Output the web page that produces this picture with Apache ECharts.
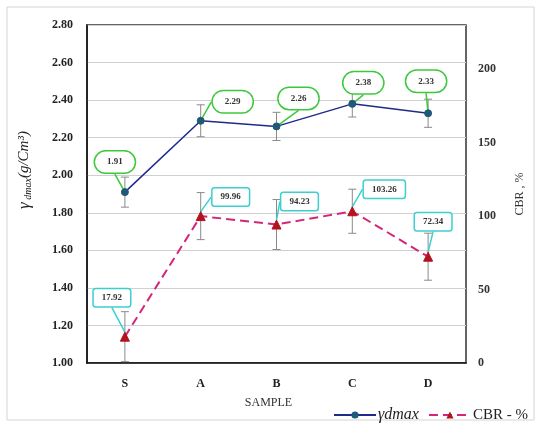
<!DOCTYPE html>
<html>
<head>
<meta charset="utf-8">
<script src="https://cdn.jsdelivr.net/npm/echarts@6/dist/echarts.min.js"></script>
<style>
  html, body { margin: 0; padding: 0; background: #fff; }
  #chart { width: 535px; height: 426px; }
</style>
</head>
<body>
<div id="chart"></div>
<script>
// data
var samples = ['S', 'A', 'B', 'C', 'D']
var ydmax = [1.91, 2.29, 2.26, 2.38, 2.33]
var ydmaxErr = [0.08, 0.085, 0.075, 0.07, 0.075]
var cbr = [17.92, 99.96, 94.23, 103.26, 72.34]
var cbrErr = [17, 16, 17, 15, 16]

// where each callout sits relative to its point (px)
var ydOffsets = [[-10, -30], [32, -19], [22, -28], [11, -21], [-2, -32]]
var cbrOffsets = [[-13, -39], [30, -19], [23, -23], [32, -22], [5, -35]]

var serif = '"Liberation Serif", "DejaVu Serif", serif'

function errData(vals, errs) {
  return vals.map(function (v, i) { return [i, v - errs[i], v + errs[i]] })
}

function errorBars(yIndex, vals, errs) {
  return {
    type: 'custom',
    yAxisIndex: yIndex,
    silent: true,
    z: 1,
    encode: { x: 0, y: [1, 2] },
    data: errData(vals, errs),
    renderItem: function (params, api) {
      var lo = api.coord([api.value(0), api.value(1)])
      var hi = api.coord([api.value(0), api.value(2)])
      var w = 4
      var st = { stroke: '#8a8a8a', lineWidth: 1 }
      return {
        type: 'group',
        children: [
          { type: 'line', shape: { x1: lo[0], y1: lo[1], x2: hi[0], y2: hi[1] }, style: st },
          { type: 'line', shape: { x1: lo[0] - w, y1: lo[1], x2: lo[0] + w, y2: lo[1] }, style: st },
          { type: 'line', shape: { x1: hi[0] - w, y1: hi[1], x2: hi[0] + w, y2: hi[1] }, style: st }
        ]
      }
    }
  }
}

var chart = echarts.init(document.getElementById('chart'))

chart.setOption({
  animation: false,
  textStyle: { fontFamily: serif },
  graphic: [{
    type: 'rect',
    shape: { x: 7, y: 7, width: 527, height: 413 },
    style: { fill: 'none', stroke: '#d4d4d4', lineWidth: 1 },
    silent: true
  }],
  grid: {
    left: 87,
    right: 69,
    top: 25,
    bottom: 63,
    show: true,
    borderColor: '#333',
    borderWidth: 1.5
  },
  legend: {
    left: 328,
    top: 402,
    itemWidth: 42,
    itemHeight: 9,
    itemGap: 9,
    data: ['γdmax', 'CBR - %'],
    textStyle: {
      fontFamily: serif,
      fontSize: 15,
      color: '#222',
      padding: [0, 0, 0, -3],
      rich: { i: { fontStyle: 'italic', fontFamily: serif, fontSize: 16, color: '#222' } }
    },
    formatter: function (name) {
      return name === 'γdmax' ? '{i|' + name + '}' : name
    }
  },
  xAxis: {
    type: 'category',
    data: samples,
    name: 'SAMPLE',
    nameLocation: 'middle',
    nameGap: 34,
    nameTextStyle: { fontFamily: serif, fontSize: 12, color: '#333', padding: [0, 16, 0, 0] },
    axisLine: { lineStyle: { color: '#111', width: 1.5 } },
    axisTick: { show: false },
    axisLabel: { margin: 15, fontFamily: serif, fontWeight: 'bold', fontSize: 12, color: '#222' }
  },
  yAxis: [{
    type: 'value',
    min: 1,
    max: 2.8,
    interval: 0.2,
    name: '{g|γ}{s| dmax}{n|(g/Cm³)}',
    nameLocation: 'middle',
    nameGap: 54,
    nameRotate: 90,
    nameTextStyle: {
      padding: [0, 0, 0, 48],
      rich: {
        g: { fontFamily: serif, fontStyle: 'italic', fontSize: 17, color: '#222' },
        s: { fontFamily: serif, fontStyle: 'italic', fontSize: 10, color: '#222', verticalAlign: 'bottom' },
        n: { fontFamily: serif, fontStyle: 'italic', fontSize: 15, color: '#222' }
      }
    },
    axisLine: { show: true, lineStyle: { color: '#111', width: 1.5 } },
    axisTick: { show: false },
    axisLabel: {
      margin: 14,
      fontFamily: serif,
      fontWeight: 'bold',
      fontSize: 12,
      color: '#222',
      formatter: function (v) { return v.toFixed(2) }
    },
    splitLine: { lineStyle: { color: '#d0d0d0' } }
  }, {
    type: 'value',
    min: 0,
    max: 230,
    interval: 50,
    position: 'right',
    name: 'CBR , %',
    nameLocation: 'middle',
    nameGap: 48,
    nameRotate: 90,
    nameTextStyle: { fontFamily: serif, fontSize: 12, color: '#333' },
    axisLine: { show: false },
    axisTick: { show: false },
    axisLabel: {
      margin: 12,
      showMaxLabel: false,
      fontFamily: serif,
      fontWeight: 'bold',
      fontSize: 12,
      color: '#333'
    },
    splitLine: { show: false }
  }],
  series: [
    errorBars(0, ydmax, ydmaxErr),
    errorBars(1, cbr, cbrErr),
    {
      name: 'γdmax',
      type: 'line',
      yAxisIndex: 0,
      data: ydmax,
      z: 3,
      symbol: 'circle',
      symbolSize: 7,
      itemStyle: { color: '#1d5a78', borderColor: '#1d5a78' },
      lineStyle: { color: '#1f2a8a', width: 1.5 },
      label: {
        show: true,
        position: 'inside',
        formatter: function (p) { return p.value.toFixed(2) },
        fontFamily: serif,
        fontWeight: 'bold',
        fontSize: 9,
        color: '#333',
        backgroundColor: '#fff',
        borderColor: '#3cc83c',
        borderWidth: 1.5,
        borderRadius: 11,
        padding: [6, 12]
      },
      labelLine: { show: true, lineStyle: { color: '#3cc83c', width: 1.5 } },
      labelLayout: function (p) {
        return { dx: ydOffsets[p.dataIndex][0], dy: ydOffsets[p.dataIndex][1] }
      }
    },
    {
      name: 'CBR - %',
      type: 'line',
      yAxisIndex: 1,
      data: cbr,
      z: 3,
      symbol: 'triangle',
      symbolSize: 9,
      itemStyle: { color: '#b3121e', borderColor: '#b3121e' },
      lineStyle: { color: '#d3267a', width: 2, type: [9, 5] },
      label: {
        show: true,
        position: 'inside',
        formatter: function (p) { return p.value.toFixed(2) },
        fontFamily: serif,
        fontWeight: 'bold',
        fontSize: 9,
        color: '#333',
        backgroundColor: '#fff',
        borderColor: '#3ccfd0',
        borderWidth: 1.5,
        borderRadius: 2,
        padding: [4, 8]
      },
      labelLine: { show: true, lineStyle: { color: '#3ccfd0', width: 1.5 } },
      labelLayout: function (p) {
        return { dx: cbrOffsets[p.dataIndex][0], dy: cbrOffsets[p.dataIndex][1] }
      }
    }
  ]
})
</script>
</body>
</html>
